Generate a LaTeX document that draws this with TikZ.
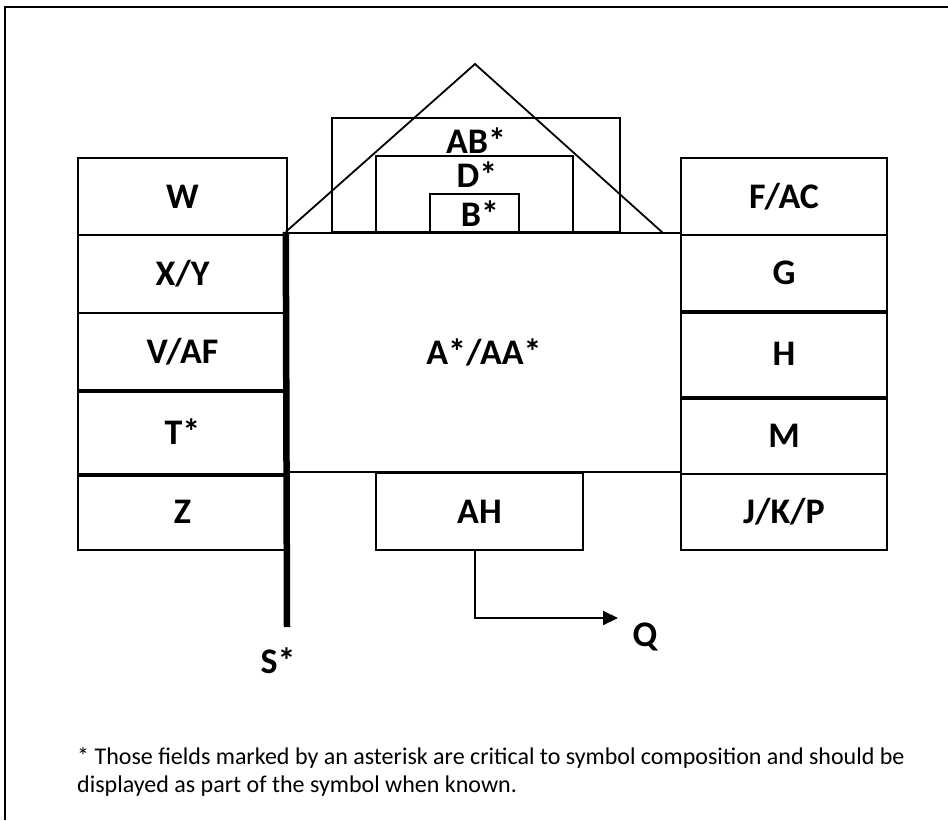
\documentclass[tikz,border=0pt]{standalone}
\usepackage{fontspec}
\setmainfont{Carlito}
\usetikzlibrary{arrows.meta}
\newcommand{\fieldfont}{\fontsize{36}{40}\selectfont\bfseries}
\newcommand{\notefont}{\fontsize{24}{29}\selectfont}

\begin{document}
\begin{tikzpicture}[x=1pt,y=-1pt,font=\fieldfont,
  fieldbox/.style={draw,line width=1.8pt,inner sep=0},
  sepline/.style={line width=3.6pt},
  flowarrow/.style={line width=2pt,-{Triangle[length=15pt,width=14pt]}}]
\useasboundingbox (0,0) rectangle (948,820);
% frame
\draw[line width=2.4pt] (5,820) -- (5,7) -- (948,7);
% left column
\node[fieldbox,minimum width=209pt,minimum height=77pt] (W) at (182.5,196.5) {W};
\node[fieldbox,minimum width=209pt,minimum height=78pt] (XY) at (182.5,274) {X/Y};
\node[fieldbox,minimum width=209pt,minimum height=77pt] (VAF) at (182.5,351.5) {V/AF};
\node[fieldbox,minimum width=209pt,minimum height=84pt] (T) at (182.5,432) {T*};
\node[fieldbox,minimum width=209pt,minimum height=76pt] (Z) at (182.5,512) {Z};
\draw[sepline] (VAF.south west) -- (VAF.south east);
\draw[sepline] (T.south west) -- (T.south east);
% right column
\node[fieldbox,minimum width=206pt,minimum height=77pt] (FAC) at (784,196.5) {F/AC};
\node[fieldbox,minimum width=206pt,minimum height=76pt] (G) at (784,273) {G};
\node[fieldbox,minimum width=206pt,minimum height=86pt] (H) at (784,354) {H};
\node[fieldbox,minimum width=206pt,minimum height=77pt] (M) at (784,435.5) {M};
\node[fieldbox,minimum width=206pt,minimum height=76pt] (JKP) at (784,512) {J/K/P};
\draw[sepline] (G.south west) -- (G.south east);
\draw[sepline] (H.south west) -- (H.south east);
% centre
\node[fieldbox,line width=2.4pt,minimum width=394pt,minimum height=239pt] (A) at (484,352.5) {A*/AA*};
\node[fieldbox,minimum width=288pt,minimum height=114pt] (AB) at (476,175) {};
\node[fieldbox,minimum width=197pt,minimum height=76pt] (D) at (474.5,194) {};
\node[fieldbox,minimum width=89pt,minimum height=38pt] (B) at (474.5,213) {};
\node[anchor=base,inner sep=0] (ABtext) at (476,153) {AB*};
\node[anchor=base,inner sep=0] (Dtext) at (477,187) {D*};
\node[anchor=base,inner sep=0] (Btext) at (480,226) {B*};
% roof
\coordinate (apex) at (475,64);
\coordinate (roofR) at (663,233);
\draw[line width=1.8pt,line join=miter] (A.north west) -- (apex) -- (roofR);
% bottom
\node[fieldbox,minimum width=207pt,minimum height=77pt] (AH) at (479.5,511.5) {AH};
\coordinate (Qend) at (618,618);
\node (Q) at (645,637) {Q};
\draw[flowarrow] ([xshift=-4.5pt]AH.south) |- (Qend);
\coordinate (Sbot) at (287,627);
\draw[line width=6.5pt] (A.north west) -- (Sbot);
\node (S) at (278,661) {S*};
% note
\node[anchor=base west,inner sep=0,font=\notefont] (note1) at (77,764) {* Those fields marked by an asterisk are critical to symbol composition and should be};
\node[anchor=base west,inner sep=0,font=\notefont] (note2) at (77,792) {displayed as part of the symbol when known.};
\end{tikzpicture}
\end{document}
